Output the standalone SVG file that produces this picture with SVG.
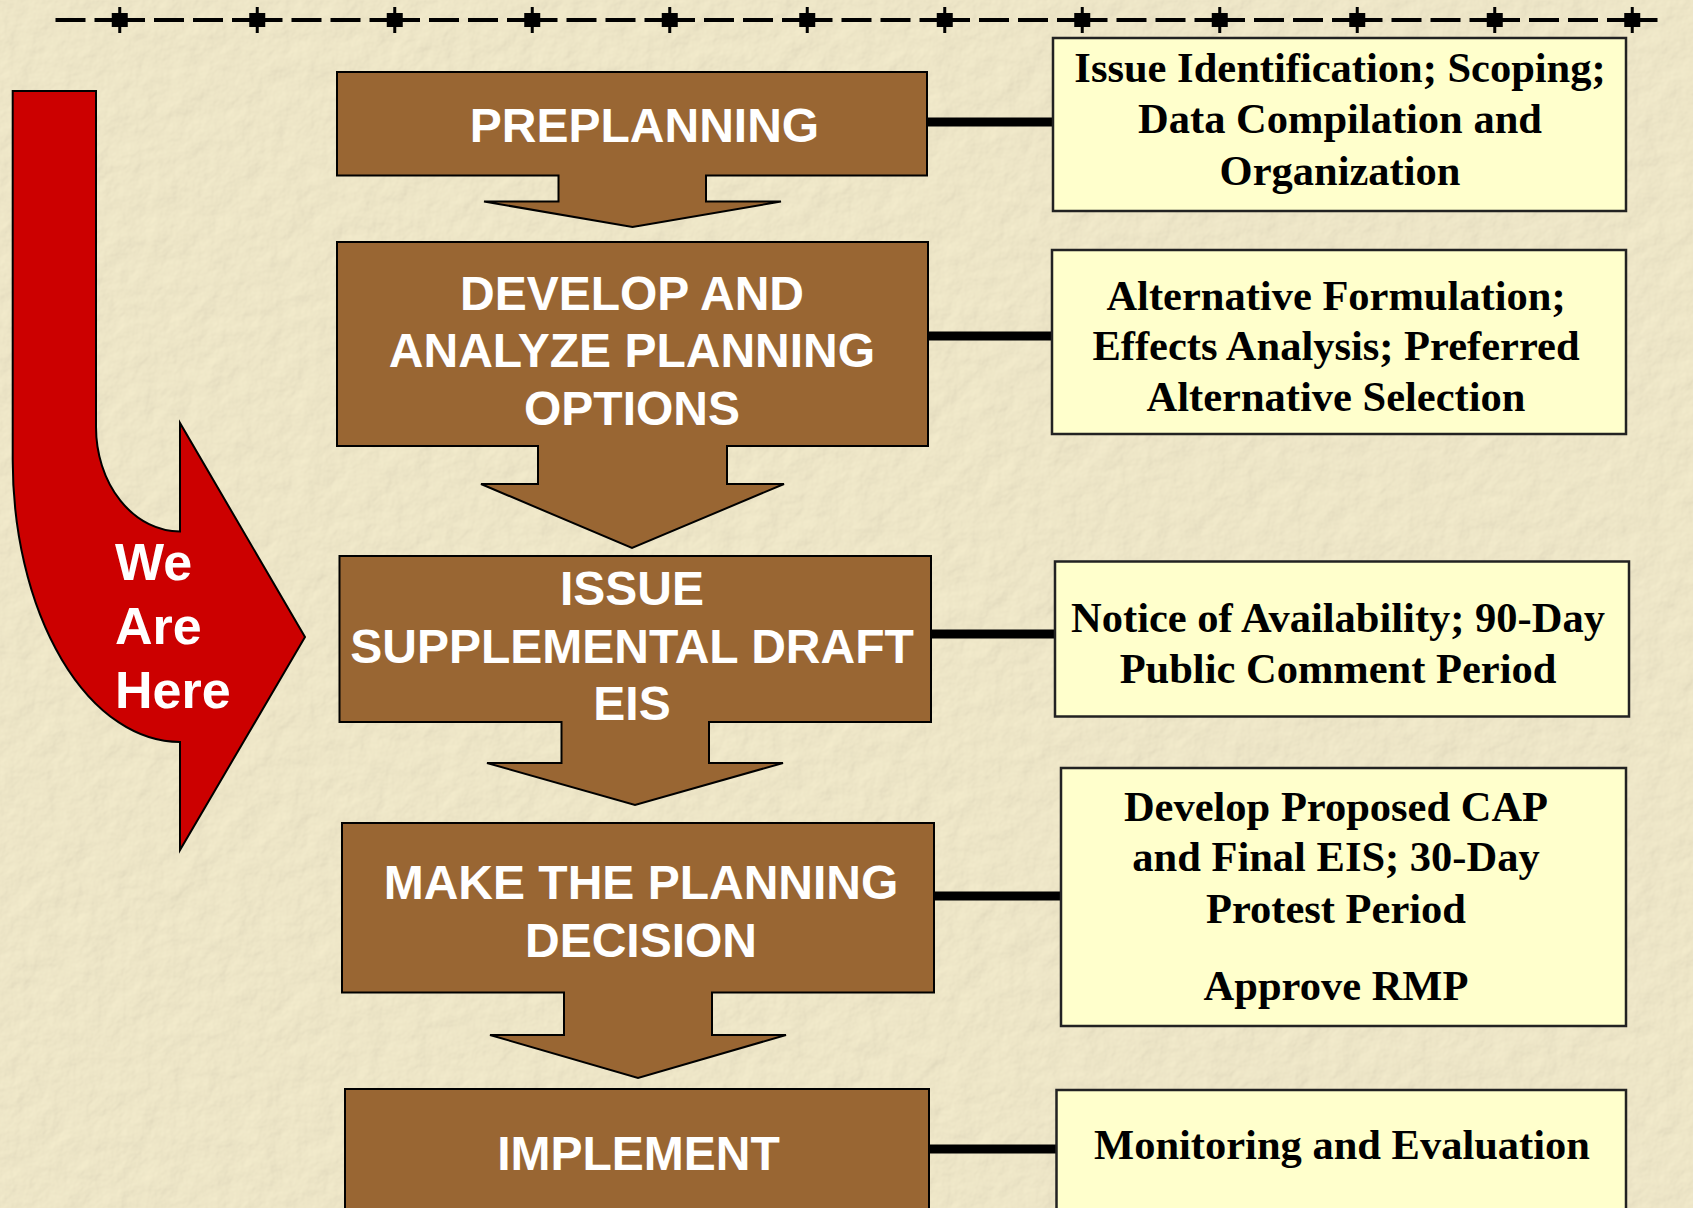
<svg xmlns="http://www.w3.org/2000/svg" xmlns:xlink="http://www.w3.org/1999/xlink" width="1693" height="1208" viewBox="0 0 1693 1208">
<defs>
<filter id="tex" x="0" y="0" width="100%" height="100%" filterUnits="userSpaceOnUse">
<feTurbulence type="fractalNoise" baseFrequency="0.04" numOctaves="4" seed="7" result="n"/>
<feDiffuseLighting in="n" surfaceScale="1.2" diffuseConstant="1" lighting-color="#F5EDCE"><feDistantLight azimuth="225" elevation="68"/></feDiffuseLighting>
</filter>
<g id="mk"><rect x="-8" y="-7" width="16" height="14" fill="#000"/><rect x="-1.5" y="-13" width="3" height="26" fill="#000"/></g>
</defs>
<style>
.step{fill:#996633;stroke:#000;stroke-width:2;stroke-linejoin:miter}
.stxt{font-family:"Liberation Sans",Arial,sans-serif;font-weight:bold;font-size:48px;fill:#fff;text-anchor:middle}
.note{fill:#FFFFCC;stroke:#222;stroke-width:2.5}
.ntxt{font-family:"Liberation Serif","Times New Roman",serif;font-weight:bold;font-size:42.5px;fill:#000;text-anchor:middle}
.conn{stroke:#000;stroke-width:9}
.here{font-family:"Liberation Sans",Arial,sans-serif;font-weight:bold;font-size:52px;fill:#fff}
</style>
<rect x="0" y="0" width="1693" height="1208" fill="#E6DFC1"/>
<rect x="0" y="0" width="1693" height="1208" filter="url(#tex)"/>

<g id="top-rule">
<line x1="55.5" y1="20" x2="1660" y2="20" stroke="#000" stroke-width="4" stroke-dasharray="30 9 50.5 9 30 9"/>
<use xlink:href="#mk" x="119.75" y="20"/><use xlink:href="#mk" x="257.25" y="20"/><use xlink:href="#mk" x="394.75" y="20"/><use xlink:href="#mk" x="532.25" y="20"/><use xlink:href="#mk" x="669.75" y="20"/><use xlink:href="#mk" x="807.25" y="20"/><use xlink:href="#mk" x="944.75" y="20"/><use xlink:href="#mk" x="1082.25" y="20"/><use xlink:href="#mk" x="1219.75" y="20"/><use xlink:href="#mk" x="1357.25" y="20"/><use xlink:href="#mk" x="1494.75" y="20"/><use xlink:href="#mk" x="1632.25" y="20"/>
</g>

<g id="we-are-here">
<path d="M12.7,91 H96 V427 A84,104.5 0 0 0 180,531.5 V423 L305,637 L180,850 V742 A167.3,282 0 0 1 12.7,460 Z" fill="#CC0000" stroke="#000" stroke-width="2"/>
<text class="here" x="115" y="580">We</text>
<text class="here" x="115" y="644">Are</text>
<text class="here" x="115" y="708">Here</text>
</g>

<g id="connectors">
<line class="conn" x1="927" y1="122" x2="1053" y2="122"/>
<line class="conn" x1="928" y1="336" x2="1052" y2="336"/>
<line class="conn" x1="931" y1="634" x2="1055" y2="634"/>
<line class="conn" x1="934" y1="896" x2="1061" y2="896"/>
<line class="conn" x1="929" y1="1149" x2="1056" y2="1149"/>
</g>

<g id="preplanning">
<path class="step" d="M337,72 H927 V175.5 H706 V201.5 H781 L632.5,227 L484,201.5 H558.5 V175.5 H337 Z"/>
<text class="stxt" x="644.5" y="141.5">PREPLANNING</text>
</g>
<g id="develop">
<path class="step" d="M337,242 H928 V446 H727 V484 H784 L632,548 L481,484 H538 V446 H337 Z"/>
<text class="stxt" x="632" y="310">DEVELOP AND</text>
<text class="stxt" x="632" y="367">ANALYZE PLANNING</text>
<text class="stxt" x="632" y="425">OPTIONS</text>
</g>
<g id="issue">
<path class="step" d="M339.5,556 H931 V722 H709 V763 H783 L635,805 L487,763 H561.5 V722 H339.5 Z"/>
<text class="stxt" x="632" y="605">ISSUE</text>
<text class="stxt" x="632" y="663">SUPPLEMENTAL DRAFT</text>
<text class="stxt" x="632" y="720">EIS</text>
</g>
<g id="decision">
<path class="step" d="M342,823 H934 V992.5 H712 V1035 H786 L638,1078 L490,1035 H564 V992.5 H342 Z"/>
<text class="stxt" x="641" y="899">MAKE THE PLANNING</text>
<text class="stxt" x="641" y="957">DECISION</text>
</g>
<g id="implement">
<path class="step" d="M345,1089 H929 V1215 H345 Z"/>
<text class="stxt" x="638.5" y="1170">IMPLEMENT</text>
</g>

<g id="note-preplanning">
<rect class="note" x="1053" y="38" width="573" height="173"/>
<text class="ntxt" x="1340" y="82">Issue Identification; Scoping;</text>
<text class="ntxt" x="1340" y="133">Data Compilation and</text>
<text class="ntxt" x="1340" y="185">Organization</text>
</g>
<g id="note-develop">
<rect class="note" x="1052" y="250" width="574" height="184"/>
<text class="ntxt" x="1336" y="310">Alternative Formulation;</text>
<text class="ntxt" x="1336" y="360">Effects Analysis; Preferred</text>
<text class="ntxt" x="1336" y="411">Alternative Selection</text>
</g>
<g id="note-issue">
<rect class="note" x="1055" y="561.5" width="574" height="155"/>
<text class="ntxt" x="1338" y="632">Notice of Availability; 90-Day</text>
<text class="ntxt" x="1338" y="683">Public Comment Period</text>
</g>
<g id="note-decision">
<rect class="note" x="1061" y="768" width="565" height="258"/>
<text class="ntxt" x="1336" y="821">Develop Proposed CAP</text>
<text class="ntxt" x="1336" y="871">and Final EIS; 30-Day</text>
<text class="ntxt" x="1336" y="923">Protest Period</text>
<text class="ntxt" x="1336" y="1000">Approve RMP</text>
</g>
<g id="note-implement">
<rect class="note" x="1056.5" y="1090" width="569.5" height="125"/>
<text class="ntxt" x="1342" y="1159">Monitoring and Evaluation</text>
</g>
</svg>
